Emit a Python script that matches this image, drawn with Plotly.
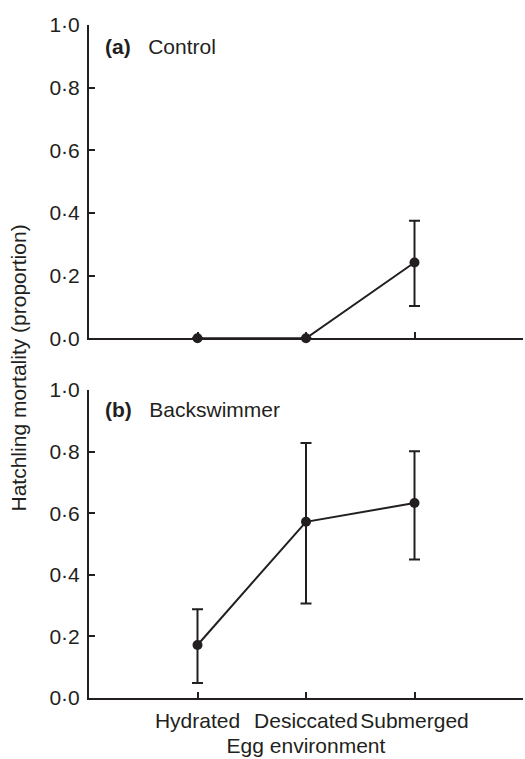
import plotly.graph_objects as go

categories = ["Hydrated", "Desiccated", "Submerged"]
cat_pos = [1, 2, 3]

control_mean = [0.0, 0.0, 0.242]
control_upper = [0.0, 0.0, 0.375]
control_lower = [0.0, 0.0, 0.103]

back_mean = [0.172, 0.572, 0.633]
back_upper = [0.288, 0.828, 0.801]
back_lower = [0.049, 0.307, 0.450]

y_tickvals = [0.0, 0.2, 0.4, 0.6, 0.8, 1.0]
y_ticktext = ["0·0", "0·2", "0·4", "0·6", "0·8", "1·0"]

INK = "#231f20"
FONT = "Liberation Sans, Arial, Helvetica, sans-serif"
FS = 21

fig = go.Figure()

def add_series(mean, upper, lower, xa, ya):
    plus = [u - m for u, m in zip(upper, mean)]
    minus = [m - l for m, l in zip(mean, lower)]
    fig.add_trace(go.Scatter(
        x=cat_pos, y=mean, xaxis=xa, yaxis=ya,
        mode="lines+markers",
        line=dict(color=INK, width=2),
        marker=dict(color=INK, size=10),
        error_y=dict(type="data", symmetric=False, array=plus, arrayminus=minus,
                     color=INK, thickness=2, width=5.5, visible=True),
        cliponaxis=False, showlegend=False,
    ))

add_series(control_mean, control_upper, control_lower, "x", "y")
add_series(back_mean, back_upper, back_lower, "x2", "y2")

axis_common = dict(showline=True, linecolor=INK, linewidth=2, ticks="inside",
                   ticklen=6, tickwidth=2, tickcolor=INK, showgrid=False,
                   zeroline=False, tickfont=dict(family=FONT, size=FS, color=INK))

fig.update_layout(
    width=525, height=759,
    margin=dict(l=89, r=2, t=25, b=61),
    paper_bgcolor="white", plot_bgcolor="white",
    font=dict(family=FONT, size=FS, color=INK),
    xaxis=dict(domain=[0, 1], range=[0, 4], tickvals=[1, 2, 3, 4],
               showticklabels=False, anchor="y", **axis_common),
    yaxis=dict(domain=[0.5345, 1.0], range=[0, 1], tickvals=y_tickvals,
               ticktext=y_ticktext, anchor="x", ticklabelstandoff=3, **axis_common),
    xaxis2=dict(domain=[0, 1], range=[0, 4], tickvals=[1, 2, 3, 4],
                ticktext=categories + [""], anchor="y2", ticklabelstandoff=3,
                title=dict(text="Egg environment", font=dict(family=FONT, size=FS, color=INK), standoff=7),
                **axis_common),
    yaxis2=dict(domain=[0, 0.4577], range=[0, 1], tickvals=y_tickvals,
                ticktext=y_ticktext, anchor="x2", ticklabelstandoff=3, **axis_common),
)

fig.add_annotation(text="<b>(a)</b>&nbsp;&nbsp; Control", xref="x", yref="y",
                   x=0.13, y=0.93, xanchor="left", yanchor="middle", showarrow=False,
                   font=dict(family=FONT, size=FS, color=INK))
fig.add_annotation(text="<b>(b)</b>&nbsp;&nbsp; Backswimmer", xref="x2", yref="y2",
                   x=0.13, y=0.935, xanchor="left", yanchor="middle", showarrow=False,
                   font=dict(family=FONT, size=FS, color=INK))
fig.add_annotation(text="Hatchling mortality (proportion)", xref="paper", yref="paper",
                   x=-0.163, y=0.49, xanchor="center", yanchor="middle", textangle=-90,
                   showarrow=False, font=dict(family=FONT, size=FS, color=INK))

fig.write_html("out.html", config={"displayModeBar": False},
               post_script="document.body.style.margin='0px';")
